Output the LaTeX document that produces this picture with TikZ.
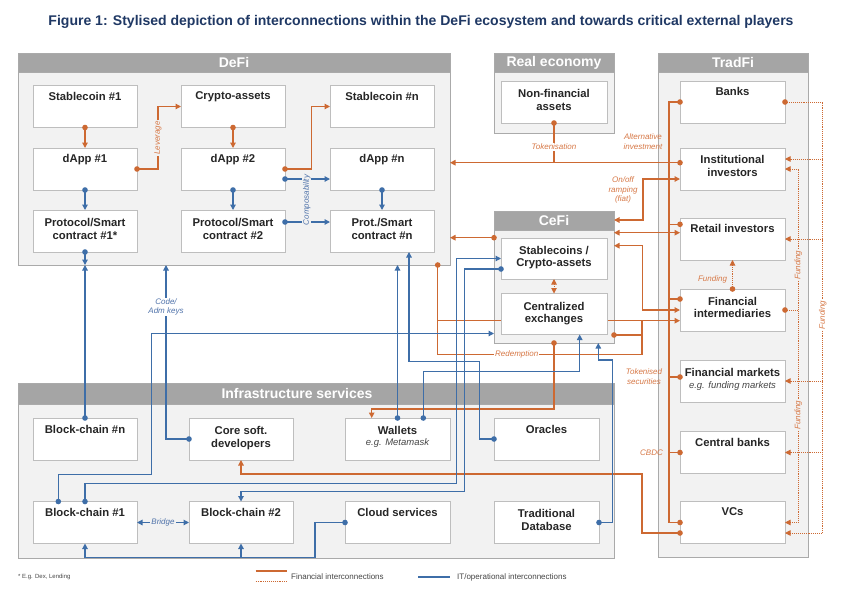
\documentclass[tikz,border=0pt]{standalone}
\usepackage{fontspec}
\usepackage{graphicx}
\setmainfont{Liberation Sans}
\usetikzlibrary{arrows.meta,calc}
\definecolor{pborder}{RGB}{170,170,170}
\definecolor{pfill}{RGB}{242,242,242}
\definecolor{hfill}{RGB}{165,165,165}
\definecolor{bborder}{RGB}{190,190,190}
\definecolor{lblc}{RGB}{38,38,38}
\definecolor{subc}{RGB}{70,70,70}
\definecolor{finc}{RGB}{205,105,50}
\definecolor{itc}{RGB}{62,110,168}
\definecolor{flc}{RGB}{215,120,70}
\definecolor{ilc}{RGB}{80,115,170}
\definecolor{titlec}{RGB}{31,56,100}
\pgfdeclarelayer{bg}
\pgfdeclarelayer{mid}
\pgfdeclarelayer{fg}
\pgfsetlayers{bg,mid,main,fg}
\begin{document}
\begin{tikzpicture}[x=1pt,y=-1pt,
  panel/.style={draw=pborder, fill=pfill, line width=0.8pt, inner sep=0pt, outer sep=0pt},
  hdr/.style={fill=hfill, draw=pborder, line width=0.8pt, inner sep=0pt, outer sep=0pt, text=white, font=\fontsize{14}{16}\selectfont\bfseries, anchor=north},
  hdrtxt/.style={inner sep=0pt, text=white, font=\fontsize{14}{16}\selectfont\bfseries},
  bx/.style={draw=bborder, fill=white, line width=0.8pt, minimum width=104pt, minimum height=42pt, inner sep=0pt, outer sep=0pt},
  lbl/.style={anchor=north, inner sep=0pt, align=center, text=lblc, font=\fontsize{11.3}{12.6}\selectfont\bfseries},
  sub/.style={inner sep=0pt, text=subc, font=\fontsize{9.5}{11}\selectfont\itshape},
  fin/.style={draw=finc, line width=1.2pt},
  it/.style={draw=itc, line width=1.2pt},
  fund/.style={draw=finc, line width=0.9pt, densely dotted},
  da/.style={{Circle[length=5.5pt]}-{Triangle[length=5.5pt,width=5.5pt]}, shorten <=-2.75pt},
  dn/.style={{Circle[length=5.5pt]}-, shorten <=-2.75pt},
  dd/.style={{Circle[length=5.5pt]}-{Circle[length=5.5pt]}, shorten <=-2.75pt, shorten >=-2.75pt},
  aa/.style={{Triangle[length=5.5pt,width=5.5pt]}-{Triangle[length=5.5pt,width=5.5pt]}},
  na/.style={-{Triangle[length=5.5pt,width=5.5pt]}},
  flbl/.style={text=flc, font=\fontsize{8}{9.5}\selectfont\itshape, inner sep=1pt, align=center},
  ilbl/.style={text=ilc, font=\fontsize{8}{9.5}\selectfont\itshape, inner sep=1pt, align=center},
]
\useasboundingbox (0,0) rectangle (842,595);

% title
\node[text=titlec, font=\bfseries\fontsize{12}{14}\selectfont, inner sep=0pt] (title) at (421,22)
  {\resizebox{745pt}{!}{Figure 1: Stylised depiction of interconnections within the DeFi ecosystem and towards critical external players}};

% panels
\begin{pgfonlayer}{bg}
\fill[white] (0,0) rectangle (842,595);
\node[panel, minimum width=432pt, minimum height=212pt] (defi) at (234,159) {};
\node[hdr, minimum width=432pt, minimum height=19pt] (defih) at (defi.north) {DeFi};
\node[panel, minimum width=120pt, minimum height=80pt] (reco) at (554,93) {};
\node[hdr, minimum width=120pt, minimum height=19pt] (recoh) at (reco.north) {Real economy};
\node[panel, minimum width=150pt, minimum height=504pt] (tradfi) at (733,305) {};
\node[hdr, minimum width=150pt, minimum height=19pt] (tradfih) at (tradfi.north) {TradFi};
\node[panel, minimum width=120pt, minimum height=132pt] (cefi) at (554,277) {};
\node[hdr, minimum width=120pt, minimum height=19pt] (cefih) at (cefi.north) {CeFi};
\node[panel, minimum width=596pt, minimum height=175pt] (infra) at (316,470.5) {};
\node[hdr, minimum width=596pt, minimum height=21pt] (infrah) at (infra.north) {};
\node[hdrtxt] (infrat) at (297,393.5) {Infrastructure services};
\end{pgfonlayer}

% boxes DeFi
\node[bx] (sc1) at (85,106.5) {};
\node[bx] (ca) at (233,106.5) {};
\node[bx] (scn) at (382,106.5) {};
\node[bx] (dapp1) at (85,169) {};
\node[bx] (dapp2) at (233,169) {};
\node[bx] (dappn) at (382,169) {};
\node[bx] (p1) at (85,231) {};
\node[bx] (p2) at (233,231) {};
\node[bx] (pn) at (382,231) {};
% real economy
\node[bx, minimum width=106pt] (nfa) at (554,102) {};
% TradFi
\node[bx, minimum width=105pt] (banks) at (732.5,102) {};
\node[bx, minimum width=105pt] (inst) at (732.5,169) {};
\node[bx, minimum width=105pt] (retail) at (732.5,239) {};
\node[bx, minimum width=105pt] (fi) at (732.5,310) {};
\node[bx, minimum width=105pt] (fm) at (732.5,381) {};
\node[bx, minimum width=105pt] (cb) at (732.5,452.5) {};
\node[bx, minimum width=105pt] (vcs) at (732.5,522.5) {};
% CeFi
\node[bx, minimum width=106pt, minimum height=41pt] (scca) at (554,258.5) {};
\node[bx, minimum width=106pt, minimum height=41pt] (cex) at (554,314) {};
% Infra
\node[bx] (bcn) at (85,439) {};
\node[bx] (csd) at (241,439) {};
\node[bx, minimum width=105pt] (wal) at (397.5,439) {};
\node[bx, minimum width=105pt] (ora) at (546.5,439) {};
\node[bx] (bc1) at (85,522.5) {};
\node[bx] (bc2) at (241,522.5) {};
\node[bx, minimum width=105pt] (cloud) at (397.5,522.5) {};
\node[bx, minimum width=105pt] (tdb) at (546.5,522.5) {};

% labels
\node[lbl] at ([yshift=-6.3pt]sc1.north) {Stablecoin \#1};
\node[lbl] at ([yshift=-6.3pt]ca.north) {Crypto-assets};
\node[lbl] at ([yshift=-6.3pt]scn.north) {Stablecoin \#n};
\node[lbl] at ([yshift=-6.3pt]dapp1.north) {dApp \#1};
\node[lbl] at ([yshift=-6.3pt]dapp2.north) {dApp \#2};
\node[lbl] at ([yshift=-6.3pt]dappn.north) {dApp \#n};
\node[lbl] at ([yshift=-8.3pt]p1.north) {Protocol/Smart\\contract \#1*};
\node[lbl] at ([yshift=-8.3pt]p2.north) {Protocol/Smart\\contract \#2};
\node[lbl] at ([yshift=-8.3pt]pn.north) {Prot./Smart\\contract \#n};
\node[lbl] at ([yshift=-8.3pt]nfa.north) {Non-financial\\assets};
\node[lbl] at ([yshift=-6.5pt]banks.north) {Banks};
\node[lbl] at ([yshift=-7.5pt]inst.north) {Institutional\\investors};
\node[lbl] at ([yshift=-6.5pt]retail.north) {Retail investors};
\node[lbl] at ([yshift=-8pt]fi.north) {Financial\\intermediaries};
\node[lbl] at ([yshift=-8pt]fm.north) {Financial markets};
\node[sub] at ([yshift=-26pt]fm.north) {e.g. funding markets};
\node[lbl] at ([yshift=-6.5pt]cb.north) {Central banks};
\node[lbl] at ([yshift=-6.3pt]vcs.north) {VCs};
\node[lbl] at ([yshift=-8pt]scca.north) {Stablecoins /\\Crypto-assets};
\node[lbl] at ([yshift=-8.5pt]cex.north) {Centralized\\exchanges};
\node[lbl] at ([yshift=-7pt]bcn.north) {Block-chain \#n};
\node[lbl] at ([yshift=-8.5pt]csd.north) {Core soft.\\developers};
\node[lbl] at ([yshift=-8.5pt]wal.north) {Wallets};
\node[sub] at ([yshift=-25.5pt]wal.north) {e.g. Metamask};
\node[lbl] at ([yshift=-7pt]ora.north) {Oracles};
\node[lbl] at ([yshift=-7pt]bc1.north) {Block-chain \#1};
\node[lbl] at ([yshift=-7pt]bc2.north) {Block-chain \#2};
\node[lbl] at ([yshift=-7pt]cloud.north) {Cloud services};
\node[lbl] at ([yshift=-8pt]tdb.north) {Traditional\\Database};

% lines passing behind boxes
\begin{pgfonlayer}{mid}
\draw[fin,dn] (defi.south -| 437.7,0) -- (437.7,354.3) -- (642,354.3) -- (642,320.7);
\draw[fin,na] (437.7,320.7) -- ([yshift=-10.7pt]fi.west);
\end{pgfonlayer}

\begin{pgfonlayer}{fg}
% DeFi financial
\draw[fin,da] (sc1.south) -- (dapp1.north);
\draw[fin,da] (dapp1.east) -- ++(21,0) |- (ca.west);
\draw[fin,da] (ca.south) -- (dapp2.north);
\draw[fin,da] (dapp2.east) -- ++(26.7,0) |- (scn.west);
\node[flbl, fill=pfill, rotate=90] at (158,138) {Leverage};
% DeFi IT
\draw[it,da] (dapp1.south) -- (p1.north);
\draw[it,da] (dapp2.south) -- (p2.north);
\draw[it,da] (dappn.south) -- (pn.north);
\draw[it,da] ([yshift=-10pt]dapp2.east) -- ([yshift=-10pt]dappn.west);
\draw[it,da] ([yshift=9pt]p2.east) -- ([yshift=9pt]pn.west);
\node[ilbl, fill=pfill, rotate=90] at (306.7,200) {Composability};

% tokenisation / alternative investment
\coordinate (tokj) at (554,162.7);
\draw[fin,da] ([yshift=6.3pt]inst.west) -- (defi.east |- tokj);
\draw[fin,dn] (nfa.south) -- (nfa.south |- tokj);
\node[flbl, fill=white] at (554,146.7) {Tokenisation};
\draw[fin,dd] (banks.west) -- ++(-11,0) |- (vcs.west);
\draw[fin,dn] ([yshift=14.7pt]retail.west) -- ++(-11,0);
\draw[fin,dn] ([yshift=11pt]fi.west) -- ++(-11,0);
\draw[fin,dn] ([yshift=4pt]fm.west) -- ++(-11,0);
\draw[fin,dn] (cb.west) -- ++(-11,0);
\node[flbl] at (643,141.5) {Alternative\\investment};
\node[flbl] at (644,376.7) {Tokenised\\securities};
\node[flbl, anchor=east] at (664,452.5) {CBDC};

% CeFi <-> TradFi
\draw[fin,aa] ([yshift=-10pt]inst.west) -- ++(-37,0) |- (cefi.east |- 0,220);
\node[flbl] at (623,190) {On/off\\ramping\\(fiat)};
\draw[fin,aa] ([yshift=6.3pt]retail.west) -- (cefi.east |- 0,232.7);
\draw[fin,aa] (fi.west) -- ++(-37.3,0) |- (cefi.east |- 0,245.7);
\draw[fin,dn] (cefi.east |- 0,335) -- (642,335);
\node[flbl, fill=white] at (516.7,354.3) {Redemption};
\draw[fin,da] (cefi.west |- 0,237.7) -- (defi.east |- 0,237.7);
\draw[fund,aa] (scca.south) -- (cex.north);
\draw[fin,da] (cefi.south) -- (554,409) -| ([xshift=-25.8pt]wal.north);
\draw[fin,da] ([yshift=-10.5pt]vcs.west) -- (642,533) -- (642,474) -| (csd.south);

% funding
\draw[fund,da] (fi.north) -- (retail.south);
\node[flbl] at (712.5,279.3) {Funding};
\draw[fund,da] (banks.east) -- ++(37.7,0) |- ([yshift=-10.5pt]vcs.east);
\draw[fund,na] (822.7,159) -- ([yshift=10pt]inst.east);
\draw[fund,na] (822.7,239) -- (retail.east);
\draw[fund,na] (822.7,381) -- (fm.east);
\draw[fund,na] (822.7,452.5) -- (cb.east);
\draw[fund,dn] (fi.east) -- (798.3,310);
\draw[fund,aa] (inst.east) -| (798.3,522.5) -- (vcs.east);
\node[flbl, fill=pfill, rotate=90] at (798.3,265) {Funding};
\node[flbl, fill=white, rotate=90] at (822.7,315) {Funding};
\node[flbl, fill=pfill, rotate=90] at (798.3,415) {Funding};

% infrastructure IT
\draw[it,da] (p1.south) -- (p1.south |- defi.south);
\draw[it,da] (bcn.north) -- (bcn.north |- defi.south);
\draw[it,da] (csd.west) -| (defi.south -| 166,0);
\node[ilbl, fill=white] at (166,307) {Code/\\Adm keys};
\draw[it,da] ([xshift=-26.7pt]bc1.north) -- (58.3,474.3) -- (151.7,474.3) |- (cefi.west |- 0,333.5);
\draw[it,da] (bc1.north) -- (85,483.3) -- (456.7,483.3) |- (scca.west);
\draw[it,da] ([yshift=-10.5pt]scca.west) -- (464.3,269) -- (464.3,491.7) -| (bc2.north);
\draw[it,da] (wal.north) -- (wal.north |- defi.south);
\draw[it,da] (ora.west) -- (479.3,439) -- (479.3,361.7) -| ([xshift=27pt]pn.south);
\draw[it,da] ([xshift=25.8pt]wal.north) -- (423.3,371.7) -| ([xshift=25.7pt]cex.south);
\draw[it,da] (tdb.east) -- (612.7,522.5) -- (612.7,360) -| (cefi.south -| 598.3,0);
\draw[it,da] (cloud.west) -- (315,522.5) -- (315,557.7) -| (bc1.south);
\draw[it,na] (241,557.7) -- (bc2.south);
\draw[it,aa] (bc1.east) -- (bc2.west);
\node[ilbl, fill=pfill] at (163,522.5) {Bridge};
\end{pgfonlayer}

% legend
\node[anchor=west, inner sep=0pt, text=subc, font=\fontsize{6}{7}\selectfont] (foot) at (18,577) {* E.g. Dex, Lending};
\coordinate (l1a) at (255.7,571); \coordinate (l1b) at (286.7,571);
\coordinate (l2a) at (255.7,581); \coordinate (l2b) at (286.7,581);
\draw[fin] (l1a) -- (l1b);
\draw[fund] (l2a) -- (l2b);
\node[anchor=west, inner sep=0pt, text=subc, font=\fontsize{8}{9}\selectfont] (leg1) at (291,577) {Financial interconnections};
\coordinate (l3a) at (418,577); \coordinate (l3b) at (450,577);
\draw[it] (l3a) -- (l3b);
\node[anchor=west, inner sep=0pt, text=subc, font=\fontsize{8}{9}\selectfont] (leg2) at (457,577) {IT/operational interconnections};
\end{tikzpicture}
\end{document}
